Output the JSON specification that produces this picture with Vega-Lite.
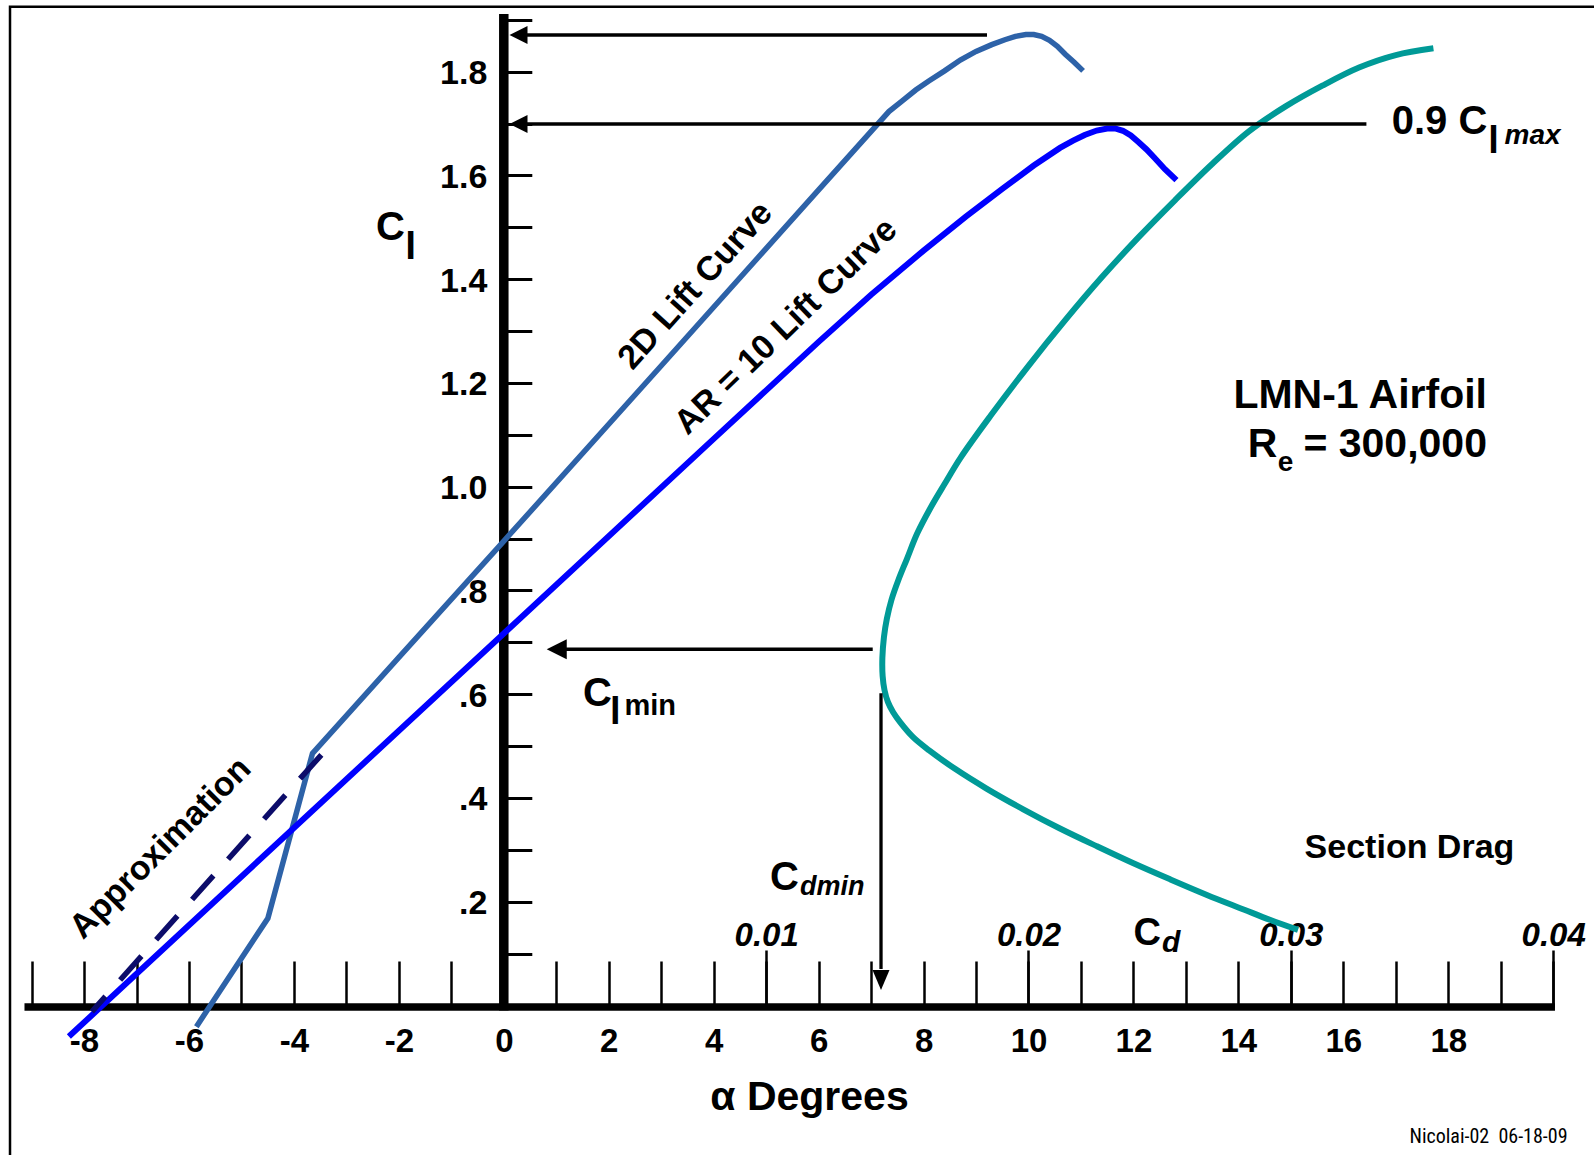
{
  "$schema": "https://vega.github.io/schema/vega-lite/v6.json",
  "width": 1594,
  "height": 1155,
  "autosize": {"type": "none"},
  "padding": 0,
  "background": "white",
  "config": {
    "view": {"stroke": null},
    "axis": {"labelFont": "Liberation Sans", "titleFont": "Liberation Sans", "labelColor": "black", "titleColor": "black", "tickColor": "black", "grid": false, "domain": false},
    "text": {"font": "Liberation Sans", "color": "black"}
  },
  "resolve": {"axis": {"x": "independent", "y": "independent"}},
  "encoding": {
    "x": {"field": "a", "type": "quantitative", "scale": {"domain": [-9.6017, 20.7776], "nice": false, "zero": false}, "axis": null},
    "y": {"field": "cl", "type": "quantitative", "scale": {"domain": [-0.28839, 1.93812], "nice": false, "zero": false}, "axis": null}
  },
  "layer": [
    {
      "data": {"values": [{"a": -9.411, "a2": 20.892, "cl": 1.9252, "cl2": -0.298}]},
      "mark": {"type": "rect", "filled": false, "stroke": "black", "strokeWidth": 2.5},
      "encoding": {"x2": {"field": "a2"}, "y2": {"field": "cl2"}}
    },
    {
      "data": {"values": [{"a": -9.135, "a2": 20.034, "cl": -0.003}]},
      "mark": {"type": "rule", "color": "black", "strokeWidth": 7.5},
      "encoding": {"x2": {"field": "a2"}}
    },
    {
      "data": {"values": [{"a": 0, "cl": -0.01, "cl2": 1.9111}]},
      "mark": {"type": "rule", "color": "black", "strokeWidth": 9.5},
      "encoding": {"y2": {"field": "cl2"}}
    },
    {
      "data": {"values": [
        {"a": -5.859, "cl": -0.041}, {"a": -4.496, "cl": 0.168}, {"a": -3.646, "cl": 0.486}, {"a": -2, "cl": 0.671},
        {"a": 0, "cl": 0.895}, {"a": 3, "cl": 1.233}, {"a": 6, "cl": 1.572}, {"a": 7.339, "cl": 1.723},
        {"a": 7.6, "cl": 1.744}, {"a": 7.85, "cl": 1.7646}, {"a": 8.1, "cl": 1.782}, {"a": 8.4, "cl": 1.8015},
        {"a": 8.7, "cl": 1.8224}, {"a": 9.0, "cl": 1.839}, {"a": 9.3, "cl": 1.852}, {"a": 9.55, "cl": 1.8615},
        {"a": 9.75, "cl": 1.868}, {"a": 9.95, "cl": 1.8715}, {"a": 10.1, "cl": 1.8715}, {"a": 10.25, "cl": 1.868},
        {"a": 10.4, "cl": 1.8605}, {"a": 10.55, "cl": 1.849}, {"a": 10.7, "cl": 1.8335}, {"a": 10.87, "cl": 1.818},
        {"a": 11.04, "cl": 1.8015}
      ]},
      "mark": {"type": "line", "color": "#2d62a8", "strokeWidth": 5.5},
      "encoding": {
        "x": {"field": "a", "type": "quantitative", "scale": {"domain": [-9.6017, 20.7776], "nice": false, "zero": false},
          "axis": {"orient": "bottom", "offset": -148, "values": [-9,-8,-7,-6,-5,-4,-3,-2,-1,1,2,3,4,5,6,7,8,9,10,11,12,13,14,15,16,17,18,19,20], "domain": false, "grid": false, "labels": false, "ticks": true, "tickSize": -46, "tickWidth": 2.5, "tickColor": "black", "title": null}},
        "y": {"field": "cl", "type": "quantitative", "scale": {"domain": [-0.28839, 1.93812], "nice": false, "zero": false},
          "axis": {"orient": "left", "offset": -503.8, "values": [0.1,0.2,0.3,0.4,0.5,0.6,0.7,0.8,0.9,1.0,1.1,1.2,1.3,1.4,1.5,1.6,1.7,1.8,1.9], "domain": false, "grid": false, "labels": false, "ticks": true, "tickSize": -28, "tickWidth": 3, "tickColor": "black", "title": null}}
      }
    },
    {
      "data": {"values": [
        {"a": -8.289, "cl": -0.06}, {"a": 0, "cl": 0.717}, {"a": 4, "cl": 1.092}, {"a": 6, "cl": 1.279},
        {"a": 7, "cl": 1.37}, {"a": 8, "cl": 1.455}, {"a": 8.8, "cl": 1.52}, {"a": 9.5, "cl": 1.574},
        {"a": 10.1, "cl": 1.619}, {"a": 10.6, "cl": 1.653}, {"a": 10.85, "cl": 1.667}, {"a": 11.07, "cl": 1.678},
        {"a": 11.3, "cl": 1.6865}, {"a": 11.5, "cl": 1.6905}, {"a": 11.65, "cl": 1.6905}, {"a": 11.8, "cl": 1.686},
        {"a": 11.95, "cl": 1.677}, {"a": 12.1, "cl": 1.664}, {"a": 12.25, "cl": 1.65}, {"a": 12.4, "cl": 1.634},
        {"a": 12.6, "cl": 1.612}, {"a": 12.82, "cl": 1.591}
      ]},
      "mark": {"type": "line", "color": "#0000ff", "strokeWidth": 6},
      "encoding": {
        "x": {"field": "a", "type": "quantitative", "scale": {"domain": [-9.6017, 20.7776], "nice": false, "zero": false},
          "axis": {"orient": "bottom", "offset": -148, "values": [5, 10, 15, 20], "domain": false, "grid": false, "labels": false, "ticks": true, "tickSize": -57, "tickWidth": 2.5, "tickColor": "black", "title": null}},
        "y": {"field": "cl", "type": "quantitative", "scale": {"domain": [-0.28839, 1.93812], "nice": false, "zero": false},
          "axis": {"orient": "left", "offset": -503.8, "values": [0.2, 0.4, 0.6, 0.8, 1.0, 1.2, 1.4, 1.6, 1.8], "domain": false, "grid": false, "ticks": false, "tickSize": 0, "labelPadding": 17, "labelFontSize": 34, "labelFontWeight": "bold", "labelColor": "black", "labelBaseline": "middle", "labelOffset": 2, "labelFlush": false, "labelOverlap": false, "labelExpr": "datum.value < 1 ? substring(format(datum.value, '.1f'), 1) : format(datum.value, '.1f')", "title": null}}
      }
    },
    {
      "data": {"values": [{"a": -3.477, "cl": 0.483, "i": 0}, {"a": -7.85, "cl": -0.012, "i": 1}]},
      "mark": {"type": "line", "color": "#0c0c6a", "strokeWidth": 5.5, "strokeDash": [32, 22]},
      "encoding": {
        "order": {"field": "i", "type": "quantitative"},
        "x": {"field": "a", "type": "quantitative", "scale": {"domain": [-9.6017, 20.7776], "nice": false, "zero": false},
          "axis": {"orient": "bottom", "offset": -148, "values": [-8, -6, -4, -2, 0, 2, 4, 6, 8, 10, 12, 14, 16, 18], "domain": false, "grid": false, "ticks": false, "tickSize": 0, "labelPadding": 44, "labelBaseline": "alphabetic", "labelFontSize": 33, "labelFontWeight": "bold", "labelColor": "black", "labelFlush": false, "labelOverlap": false, "labelExpr": "'' + datum.value",
            "title": "α Degrees", "titleFontSize": 41, "titleFontWeight": "bold", "titleColor": "black", "titleX": 809, "titleY": 102, "titleBaseline": "alphabetic", "titleAlign": "center"}}
      }
    },
    {
      "data": {"values": [
        {"a": 17.717, "cl": 1.845, "i": 0}, {"a": 17.0, "cl": 1.832, "i": 1}, {"a": 16.3, "cl": 1.808, "i": 2},
        {"a": 15.6, "cl": 1.773, "i": 3}, {"a": 14.9, "cl": 1.733, "i": 4}, {"a": 14.2, "cl": 1.685, "i": 5},
        {"a": 13.5, "cl": 1.622, "i": 6}, {"a": 12.8, "cl": 1.553, "i": 7}, {"a": 12.1, "cl": 1.481, "i": 8},
        {"a": 11.4, "cl": 1.404, "i": 9}, {"a": 10.7, "cl": 1.321, "i": 10}, {"a": 10.0, "cl": 1.233, "i": 11},
        {"a": 9.28, "cl": 1.137, "i": 12}, {"a": 8.707, "cl": 1.056, "i": 13}, {"a": 8.4, "cl": 1.005, "i": 14},
        {"a": 8.126, "cl": 0.958, "i": 15}, {"a": 7.88, "cl": 0.91, "i": 16}, {"a": 7.68, "cl": 0.86, "i": 17},
        {"a": 7.52, "cl": 0.82, "i": 18}, {"a": 7.389, "cl": 0.782, "i": 19}, {"a": 7.3, "cl": 0.745, "i": 20},
        {"a": 7.245, "cl": 0.71, "i": 21}, {"a": 7.215, "cl": 0.67, "i": 22}, {"a": 7.22, "cl": 0.635, "i": 23},
        {"a": 7.255, "cl": 0.608, "i": 24}, {"a": 7.32, "cl": 0.585, "i": 25}, {"a": 7.42, "cl": 0.565, "i": 26},
        {"a": 7.56, "cl": 0.545, "i": 27}, {"a": 7.8, "cl": 0.517, "i": 28}, {"a": 8.1, "cl": 0.492, "i": 29},
        {"a": 8.6, "cl": 0.456, "i": 30}, {"a": 9.2, "cl": 0.418, "i": 31}, {"a": 9.9, "cl": 0.378, "i": 32},
        {"a": 10.6, "cl": 0.341, "i": 33}, {"a": 11.3, "cl": 0.307, "i": 34}, {"a": 12.0, "cl": 0.274, "i": 35},
        {"a": 12.7, "cl": 0.243, "i": 36}, {"a": 13.4, "cl": 0.213, "i": 37}, {"a": 14.1, "cl": 0.185, "i": 38},
        {"a": 14.6, "cl": 0.165, "i": 39}, {"a": 15.137, "cl": 0.1455, "i": 40}
      ]},
      "mark": {"type": "line", "color": "#009a97", "strokeWidth": 6, "interpolate": "catmull-rom"},
      "encoding": {
        "order": {"field": "i", "type": "quantitative"},
        "x": {"field": "a", "type": "quantitative", "scale": {"domain": [-9.6017, 20.7776], "nice": false, "zero": false},
          "axis": {"orient": "bottom", "offset": -148, "values": [5, 10, 15, 20], "domain": false, "grid": false, "ticks": false, "tickSize": 0, "labelPadding": -62, "labelBaseline": "alphabetic", "labelFontSize": 33, "labelFontWeight": "bold", "labelFontStyle": "italic", "labelColor": "black", "labelFlush": false, "labelOverlap": false, "labelExpr": "format(datum.value / 500, '.2f')", "title": null}}
      }
    },
    {
      "data": {"values": [
        {"a": 0.3, "a2": 9.209, "cl": 1.8706},
        {"a": 0.3, "a2": 16.44, "cl": 1.6991},
        {"a": 1.0, "a2": 7.031, "cl": 0.6864}
      ]},
      "mark": {"type": "rule", "color": "black", "strokeWidth": 3.5},
      "encoding": {"x2": {"field": "a2"}}
    },
    {
      "data": {"values": [{"a": 7.189, "cl": 0.6016, "cl2": 0.07}]},
      "mark": {"type": "rule", "color": "black", "strokeWidth": 3.3},
      "encoding": {"y2": {"field": "cl2"}}
    },
    {
      "data": {"values": [{"a": 0.1086, "cl": 1.8706}, {"a": 0.1086, "cl": 1.6991}]},
      "mark": {"type": "point", "shape": "M0 0 L2 -1 L2 1 Z", "size": 324, "filled": true, "color": "black", "opacity": 1, "strokeWidth": 0}
    },
    {
      "data": {"values": [{"a": 0.818, "cl": 0.6864}]},
      "mark": {"type": "point", "shape": "M0 0 L2 -1 L2 1 Z", "size": 400, "filled": true, "color": "black", "opacity": 1, "strokeWidth": 0}
    },
    {
      "data": {"values": [{"a": 7.189, "cl": 0.0297}]},
      "mark": {"type": "point", "shape": "M0 0 L-0.85 -2 L0.85 -2 Z", "size": 400, "filled": true, "color": "black", "opacity": 1, "strokeWidth": 0}
    },
    {
      "data": {"values": [{"a": 3.659, "cl": 1.3872, "t": "2D Lift Curve"}]},
      "mark": {"type": "text", "fontSize": 34, "fontWeight": "bold", "angle": 312, "align": "center", "baseline": "middle", "color": "black"},
      "encoding": {"text": {"field": "t"}}
    },
    {
      "data": {"values": [{"a": 5.382, "cl": 1.3083, "t": "AR = 10 Lift Curve"}]},
      "mark": {"type": "text", "fontSize": 34, "fontWeight": "bold", "angle": 316, "align": "center", "baseline": "middle", "color": "black"},
      "encoding": {"text": {"field": "t"}}
    },
    {
      "data": {"values": [{"a": -6.537, "cl": 0.3028, "t": "Approximation"}]},
      "mark": {"type": "text", "fontSize": 34, "fontWeight": "bold", "angle": 315, "align": "center", "baseline": "middle", "color": "black"},
      "encoding": {"text": {"field": "t"}}
    },
    {
      "data": {"values": [{"a": 18.738, "cl": 1.1507, "t": "LMN-1 Airfoil"}, {"a": 18.738, "cl": 1.0572, "t": "= 300,000"}]},
      "mark": {"type": "text", "fontSize": 41, "fontWeight": "bold", "align": "right", "baseline": "alphabetic", "color": "black"},
      "encoding": {"text": {"field": "t"}}
    },
    {
      "data": {"values": [{"a": 14.18, "cl": 1.0572, "t": "R"}]},
      "mark": {"type": "text", "fontSize": 41, "fontWeight": "bold", "align": "left", "baseline": "alphabetic", "color": "black"},
      "encoding": {"text": {"field": "t"}}
    },
    {
      "data": {"values": [{"a": 14.752, "cl": 1.0307, "t": "e"}]},
      "mark": {"type": "text", "fontSize": 28, "fontWeight": "bold", "align": "left", "baseline": "alphabetic", "color": "black"},
      "encoding": {"text": {"field": "t"}}
    },
    {
      "data": {"values": [{"a": 17.261, "cl": 0.3038, "t": "Section Drag"}]},
      "mark": {"type": "text", "fontSize": 34, "fontWeight": "bold", "align": "center", "baseline": "middle", "color": "black"},
      "encoding": {"text": {"field": "t"}}
    },
    {
      "data": {"values": [{"a": 16.922, "cl": 1.6798, "t": "0.9 C"}]},
      "mark": {"type": "text", "fontSize": 40, "fontWeight": "bold", "align": "left", "baseline": "alphabetic", "color": "black"},
      "encoding": {"text": {"field": "t"}}
    },
    {
      "data": {"values": [{"a": 18.762, "cl": 1.6441, "t": "l"}, {"a": 2.022, "cl": 0.5428, "t": "l"}]},
      "mark": {"type": "text", "fontSize": 38, "fontWeight": "bold", "align": "left", "baseline": "alphabetic", "color": "black"},
      "encoding": {"text": {"field": "t"}}
    },
    {
      "data": {"values": [{"a": 1.509, "cl": 0.5762, "t": "C"}, {"a": 5.073, "cl": 0.2234, "t": "C"}, {"a": -2.435, "cl": 1.4755, "t": "C"}]},
      "mark": {"type": "text", "fontSize": 40, "fontWeight": "bold", "align": "left", "baseline": "alphabetic", "color": "black"},
      "encoding": {"text": {"field": "t"}}
    },
    {
      "data": {"values": [{"a": 19.073, "cl": 1.6606, "t": "max"}]},
      "mark": {"type": "text", "fontSize": 28, "fontWeight": "bold", "fontStyle": "italic", "align": "left", "baseline": "alphabetic", "color": "black"},
      "encoding": {"text": {"field": "t"}}
    },
    {
      "data": {"values": [{"a": 5.645, "cl": 0.2136, "t": "dmin"}]},
      "mark": {"type": "text", "fontSize": 27, "fontWeight": "bold", "fontStyle": "italic", "align": "left", "baseline": "alphabetic", "color": "black"},
      "encoding": {"text": {"field": "t"}}
    },
    {
      "data": {"values": [{"a": 2.3, "cl": 0.5604, "t": "min"}]},
      "mark": {"type": "text", "fontSize": 29, "fontWeight": "bold", "align": "left", "baseline": "alphabetic", "color": "black"},
      "encoding": {"text": {"field": "t"}}
    },
    {
      "data": {"values": [{"a": -1.877, "cl": 1.4388, "t": "l"}]},
      "mark": {"type": "text", "fontSize": 39, "fontWeight": "bold", "align": "left", "baseline": "alphabetic", "color": "black"},
      "encoding": {"text": {"field": "t"}}
    },
    {
      "data": {"values": [{"a": 12.001, "cl": 0.1164, "t": "C"}]},
      "mark": {"type": "text", "fontSize": 38, "fontWeight": "bold", "align": "left", "baseline": "alphabetic", "color": "black"},
      "encoding": {"text": {"field": "t"}}
    },
    {
      "data": {"values": [{"a": 12.544, "cl": 0.102, "t": "d"}]},
      "mark": {"type": "text", "fontSize": 30, "fontWeight": "bold", "fontStyle": "italic", "align": "left", "baseline": "alphabetic", "color": "black"},
      "encoding": {"text": {"field": "t"}}
    },
    {
      "data": {"values": [{"a": 20.274, "cl": -0.2652, "t": "Nicolai-02\u00a0 06-18-09"}]},
      "mark": {"type": "text", "font": "Liberation Sans Narrow, Roboto Condensed, Liberation Sans", "fontSize": 20, "align": "right", "baseline": "alphabetic", "color": "black"},
      "encoding": {"text": {"field": "t"}}
    }
  ]
}
